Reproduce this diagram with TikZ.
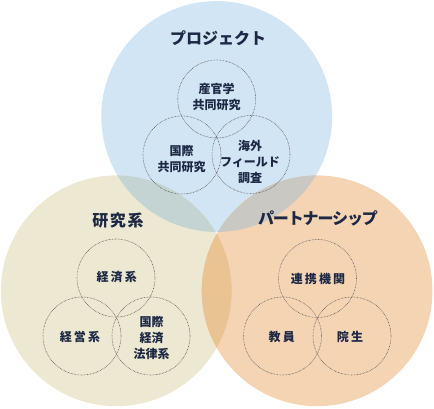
\documentclass[tikz,border=0pt]{standalone}
\usepackage{fontspec}
\newfontfamily\jp{Noto Sans CJK JP}
\definecolor{cblue}{RGB}{210,229,244}
\definecolor{cbeige}{RGB}{237,232,209}
\definecolor{corange}{RGB}{245,212,180}
\definecolor{cbb}{RGB}{196,212,210}
\definecolor{cbo}{RGB}{201,200,195}
\definecolor{cbeo}{RGB}{233,195,146}
\definecolor{ink}{RGB}{28,40,68}
\definecolor{dotc}{RGB}{85,85,85}
\tikzset{
  inner/.style={circle,draw=dotc,line width=0.6pt,dash pattern=on 0.6pt off 0.9pt,minimum size=78pt,inner sep=0pt},
  title/.style={text=ink,font=\jp\bfseries\fontsize{16}{18}\selectfont,inner sep=0pt},
  lab/.style={text=ink,font=\jp\bfseries\fontsize{12}{16}\selectfont,align=center,inner sep=0pt},
  labs/.style={lab,font=\jp\bfseries\fontsize{12}{16}\selectfont\addfontfeature{LetterSpace=18}}
}
\begin{document}
\begin{tikzpicture}[x=1pt,y=-1pt]
\useasboundingbox (0,0) rectangle (434,408);
\coordinate (T) at (216.7,116.5);
\coordinate (L) at (116.3,290.8);
\coordinate (R) at (317.1,290.8);
\def\RR{115.4}
\fill[cblue] (T) circle (\RR);
\fill[cbeige] (L) circle (\RR);
\fill[corange] (R) circle (\RR);
\begin{scope}
  \clip (T) circle (\RR);
  \fill[cbb] (L) circle (\RR);
  \fill[cbo] (R) circle (\RR);
\end{scope}
\begin{scope}
  \clip (L) circle (\RR);
  \fill[cbeo] (R) circle (\RR);
\end{scope}
% titles
\node[title] (tt) at (218,38) {プロジェクト};
\node[title,font=\jp\bfseries\fontsize{16}{18}\selectfont\addfontfeature{LetterSpace=10}] (lt) at (118,220) {研究系};
\node[title,font=\jp\bfseries\fontsize{16}{18}\selectfont\addfontfeature{LetterSpace=-7}] (rt) at (318,218) {パートナーシップ};
% inner circles
\node[inner] (t1) at (216.7,99) {};
\node[inner] (t2) at (182,155) {};
\node[inner] (t3) at (251,154.5) {};
\node[inner] (l1) at (116,278) {};
\node[inner] (l2) at (82,336) {};
\node[inner] (l3) at (151,336) {};
\node[inner] (r1) at (317.5,278.5) {};
\node[inner] (r2) at (282.5,336) {};
\node[inner] (r3) at (352,336) {};
% labels
\node[lab] (a1) at (216.7,96.5) {産官学\\共同研究};
\node[lab] (a2) at (181.7,159.5) {国際\\共同研究};
\node[lab] (a3) at (250,161.5) {海外\\フィールド\\調査};
\node[labs] (b1) at (116.7,277) {経済系};
\node[labs] (b2) at (80,337) {経営系};
\node[lab] (b3) at (151.7,337.5) {国際\\経済\\法律系};
\node[labs] (c1) at (318,279) {連携機関};
\node[labs] (c2) at (281.7,337) {教員};
\node[labs] (c3) at (350,337) {院生};
\end{tikzpicture}
\end{document}
